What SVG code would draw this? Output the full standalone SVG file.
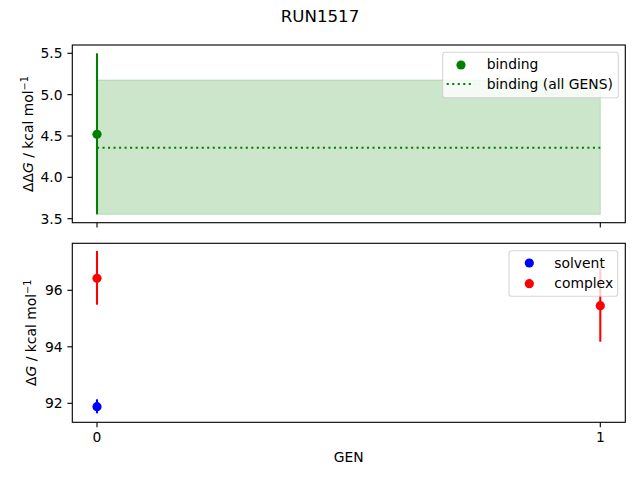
<svg xmlns="http://www.w3.org/2000/svg" width="640" height="480" viewBox="0 0 640 480">
<style>
text{font-family:"DejaVu Sans","Liberation Sans",sans-serif;fill:#000}
.t{font-size:13.89px}
.yt{font-size:13.89px;text-anchor:end}
.xt{font-size:13.89px;text-anchor:middle}
.spine{fill:none;stroke:#000;stroke-width:1.11}
.tick{stroke:#000;stroke-width:1.11}
.eb{stroke-width:2.08;fill:none}
.leg{fill:#fff;fill-opacity:0.8;stroke:#ccc;stroke-opacity:0.8;stroke-width:1.1}
.dot{stroke:#008000;stroke-width:2.08;stroke-dasharray:2.08 3.43;fill:none}
</style>
<rect width="640" height="480" fill="#fff"/>
<text x="320" y="22" style="font-size:16.67px;text-anchor:middle">RUN1517</text>

<g id="top-axes">
  <rect x="97" y="80" width="503.3" height="134.3" fill="#cce6cc" stroke="#008000" stroke-opacity="0.2" stroke-width="1"/>
  <line class="dot" x1="97" y1="147.7" x2="600.3" y2="147.7"/>
  <line class="eb" stroke="#008000" x1="97" y1="53.3" x2="97" y2="214.3"/>
  <circle cx="97" cy="134.3" r="4.6" fill="#008000"/>
  <rect class="spine" x="72.3" y="45" width="553" height="177.7"/>
  <g id="top-ticks">
    <line class="tick" x1="72.3" y1="53.3" x2="67.4" y2="53.3"/>
    <line class="tick" x1="72.3" y1="94.65" x2="67.4" y2="94.65"/>
    <line class="tick" x1="72.3" y1="136" x2="67.4" y2="136"/>
    <line class="tick" x1="72.3" y1="177.35" x2="67.4" y2="177.35"/>
    <line class="tick" x1="72.3" y1="218.7" x2="67.4" y2="218.7"/>
    <line class="tick" x1="97" y1="222.7" x2="97" y2="227.6"/>
    <line class="tick" x1="600.3" y1="222.7" x2="600.3" y2="227.6"/>
  </g>
  <text class="yt" x="62.6" y="58.4">5.5</text>
  <text class="yt" x="62.6" y="99.7">5.0</text>
  <text class="yt" x="62.6" y="141.1">4.5</text>
  <text class="yt" x="62.6" y="182.4">4.0</text>
  <text class="yt" x="62.6" y="223.8">3.5</text>
  <text class="t" transform="translate(33,134) rotate(-90)" text-anchor="middle">ΔΔ<tspan font-style="italic">G</tspan> / kcal mol<tspan dy="-5.5" style="font-size:9.7px">−1</tspan></text>
  <g id="top-legend">
    <rect class="leg" x="442.7" y="52.3" width="175.6" height="45.4" rx="2.8"/>
    <circle cx="461" cy="65" r="4.6" fill="#008000"/>
    <line class="dot" x1="446.7" y1="84" x2="474.3" y2="84"/>
    <text class="t" x="486.7" y="69">binding</text>
    <text class="t" x="486.7" y="89">binding (all GENS)</text>
  </g>
</g>

<g id="bottom-axes">
  <line class="eb" stroke="#0000ff" x1="97" y1="399.3" x2="97" y2="413.3"/>
  <circle cx="97" cy="406.7" r="4.6" fill="#0000ff"/>
  <line class="eb" stroke="#ff0000" x1="97" y1="251" x2="97" y2="304.7"/>
  <circle cx="97" cy="278.3" r="4.6" fill="#ff0000"/>
  <line class="eb" stroke="#ff0000" x1="600.3" y1="268.3" x2="600.3" y2="341.7"/>
  <circle cx="600.3" cy="305.7" r="4.6" fill="#ff0000"/>
  <rect class="spine" x="72.3" y="243.3" width="553" height="179"/>
  <g id="bottom-ticks">
    <line class="tick" x1="72.3" y1="290.3" x2="67.4" y2="290.3"/>
    <line class="tick" x1="72.3" y1="346.8" x2="67.4" y2="346.8"/>
    <line class="tick" x1="72.3" y1="403.3" x2="67.4" y2="403.3"/>
    <line class="tick" x1="97" y1="422.3" x2="97" y2="427.2"/>
    <line class="tick" x1="600.3" y1="422.3" x2="600.3" y2="427.2"/>
  </g>
  <text class="yt" x="62.6" y="295.4">96</text>
  <text class="yt" x="62.6" y="351.9">94</text>
  <text class="yt" x="62.6" y="408.4">92</text>
  <text class="xt" x="97" y="441.7">0</text>
  <text class="xt" x="600.3" y="441.7">1</text>
  <text class="xt" x="348.8" y="461.5">GEN</text>
  <text class="t" transform="translate(36,332.8) rotate(-90)" text-anchor="middle">Δ<tspan font-style="italic">G</tspan> / kcal mol<tspan dy="-5.5" style="font-size:9.7px">−1</tspan></text>
  <g id="bottom-legend">
    <rect class="leg" x="509" y="250.7" width="108.7" height="45.6" rx="2.8"/>
    <circle cx="529.3" cy="263" r="4.6" fill="#0000ff"/>
    <circle cx="529.3" cy="283.7" r="4.6" fill="#ff0000"/>
    <text class="t" x="554.3" y="267.5">solvent</text>
    <text class="t" x="554.3" y="288">complex</text>
  </g>
</g>
</svg>
